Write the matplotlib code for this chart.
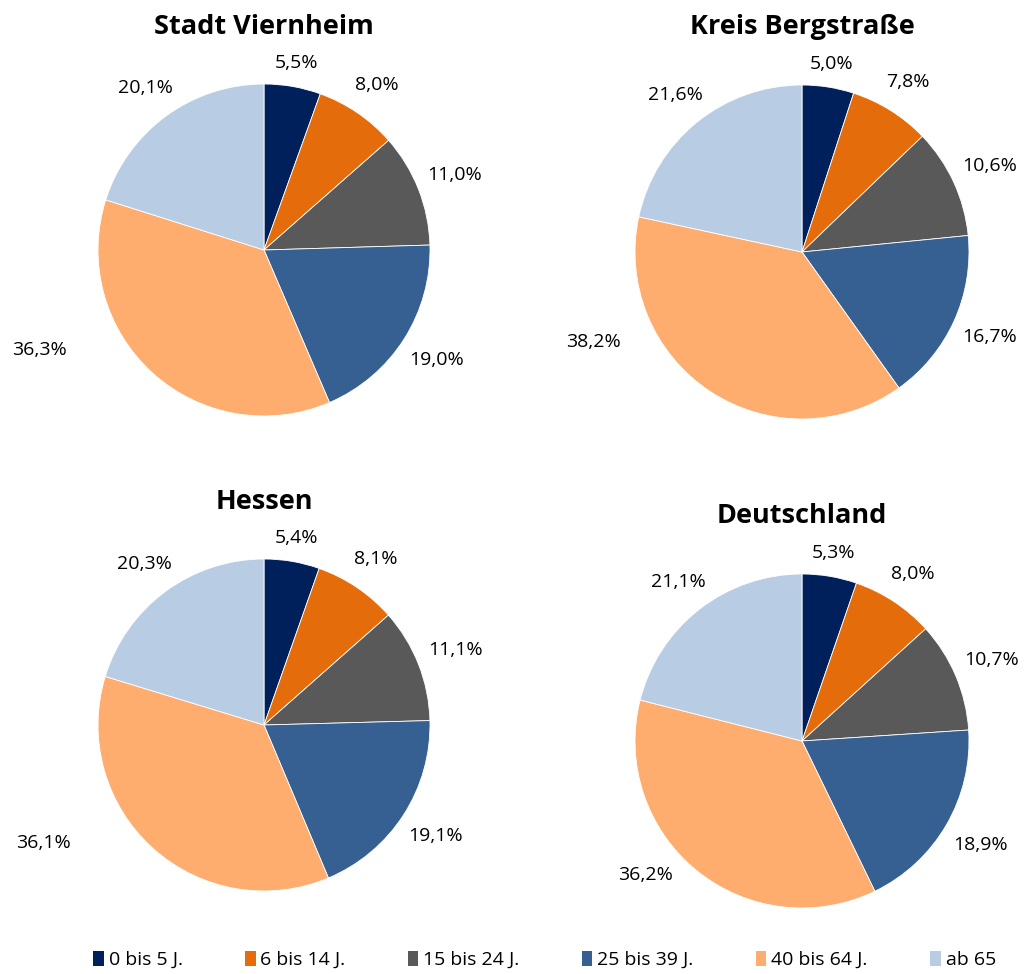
import numpy as np
import matplotlib.pyplot as plt
from matplotlib.patches import Patch

plt.rcParams['font.family'] = ['Open Sans', 'DejaVu Sans']

age_groups = ['0 bis 5 J.', '6 bis 14 J.', '15 bis 24 J.', '25 bis 39 J.', '40 bis 64 J.', 'ab 65']
regions = ['Stadt Viernheim', 'Kreis Bergstraße', 'Hessen', 'Deutschland']
viernheim = [5.5, 8.0, 11.0, 19.0, 36.3, 20.1]
bergstrasse = [5.0, 7.8, 10.6, 16.7, 38.2, 21.6]
hessen = [5.4, 8.1, 11.1, 19.1, 36.1, 20.3]
deutschland = [5.3, 8.0, 10.7, 18.9, 36.2, 21.1]
shares = [viernheim, bergstrasse, hessen, deutschland]

colors = ['#00205B', '#E46C0A', '#595959', '#366092', '#FFAD6F', '#B8CCE4']

W, H = 1035, 974
# pie centre (px) and radius (px)
layout = [(264, 250, 166), (802, 252, 167), (264, 725, 166), (802, 741, 167)]
# Excel "best fit" moved the label of the big slice further out
big_label = [(-1.35, -0.60), (-1.25, -0.54), (-1.33, -0.71), (-0.94, -0.80)]
L = 1.6
hw, hh = 29, 11  # half size of a label box in px

fig = plt.figure(figsize=(W / 100, H / 100), dpi=100)

for name, vals, (cx, cy, r), big in zip(regions, shares, layout, big_label):
    w = 2 * r * L / W
    h = 2 * r * L / H
    ax = fig.add_axes([cx / W - w / 2, 1 - cy / H - h / 2, w, h])
    wedges, _ = ax.pie(vals, colors=colors, startangle=90, counterclock=False,
                       wedgeprops=dict(linewidth=0.6, edgecolor='white'))
    for i, (wd, v) in enumerate(zip(wedges, vals)):
        txt = f'{v:.1f}%'.replace('.', ',')
        if i == 4:
            x, y = big
        else:
            a = np.deg2rad((wd.theta1 + wd.theta2) / 2)
            c, s = np.cos(a), np.sin(a)
            d = 1.05 + (abs(c) * hw + abs(s) * hh) / r
            x, y = d * c, d * s
        ax.text(x, y, txt, ha='center', va='center', fontsize=14)
    ax.text(0, 1.345, name, ha='center', va='center', fontsize=19.5, fontweight='bold')
    ax.set_xlim(-L, L)
    ax.set_ylim(-L, L)
    ax.set_aspect('equal')
    ax.axis('off')

handles = [Patch(facecolor=c, edgecolor='none') for c in colors]
fig.legend(handles, age_groups, loc='center', bbox_to_anchor=(0.526, 1 - 960 / H), ncol=6,
           frameon=False, fontsize=14, handlelength=0.55, handleheight=0.8,
           handletextpad=0.25, columnspacing=3.2)

fig.savefig('out.png', dpi=100)
